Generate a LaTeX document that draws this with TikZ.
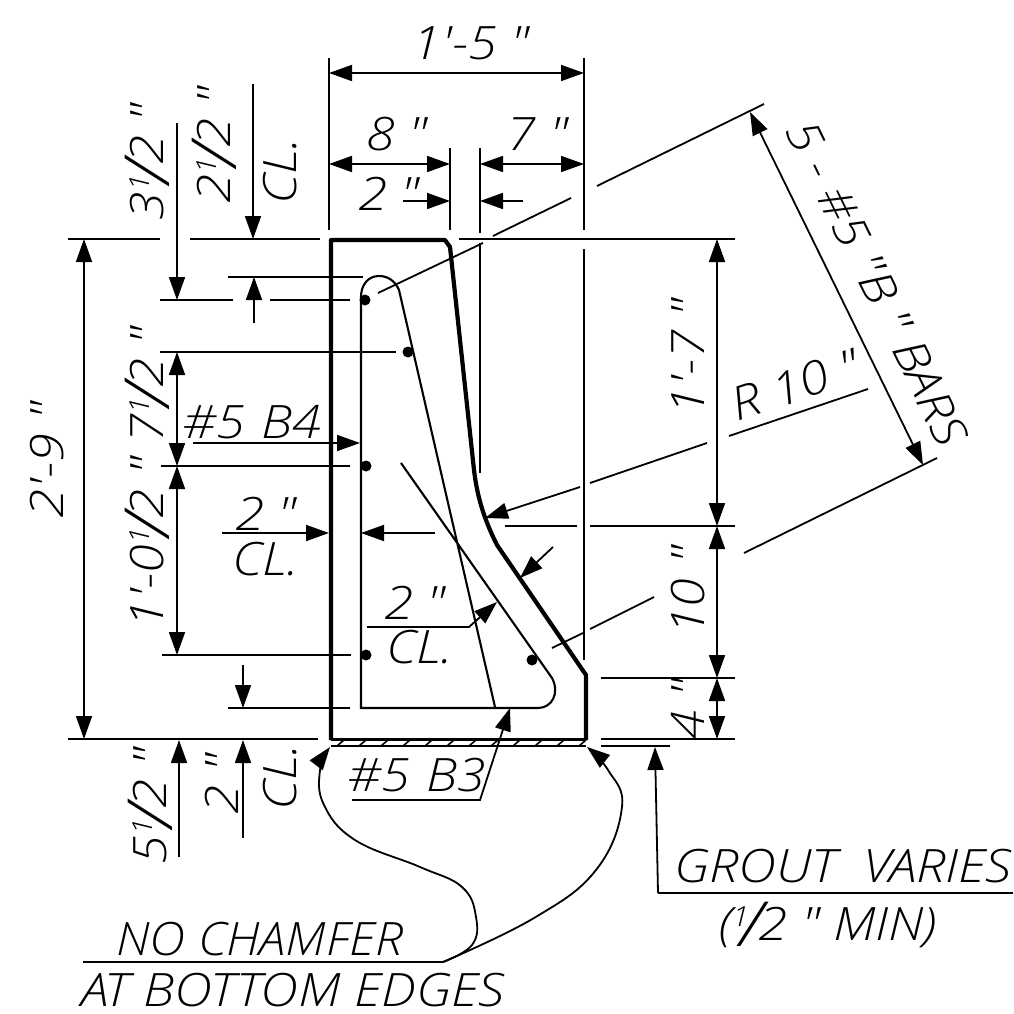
\documentclass[tikz,border=0pt]{standalone}
\usepackage{fontspec}
\usetikzlibrary{arrows.meta}
\newfontfamily\draftfont{Open Sans}[UprightFont=* Light,ItalicFont=* Light Italic,FakeStretch=1.14]
\newcommand{\hlf}{\raisebox{.3em}{\scalebox{.6}{1}}\kern-.2em\raisebox{-.12em}{\scalebox{1.35}{/}}\kern-.08em 2}
\begin{document}
\begin{tikzpicture}
	[x=1pt,y=-1pt,
	>={Triangle[length=23pt,width=16pt]},
	thinline/.style={line width=1.8pt},
	outline/.style={line width=4.2pt,line join=round},
	bar/.style={line width=2.1pt},
	every node/.style={font=\draftfont\itshape\fontsize{46}{46}\selectfont,inner sep=0pt}]
	\useasboundingbox (0,0) rectangle (1013,1014);
	\draw[outline] (331,740) -- (331,240) -- (445,240) -- (450,247) -- (474,470)
		.. controls (477,495) and (483,517) .. (497,545) -- (586,675) -- (586,740);
	\draw[line width=2.6pt] (331,739.5) -- (586,739.5);
	\draw[bar] (495,707) -- (399,290) .. controls (395,281) and (388,276) .. (379,276)
		.. controls (368,276) and (361,285) .. (361,297) -- (361,708) -- (538,708)
		.. controls (552,708) and (560,693) .. (552,678) -- (401,463);
	\foreach \px/\py in {365/300,408/352,366/466,366/655,532/660}
		\fill (\px,\py) circle (5.5pt);
	\draw[thinline] (331,746) -- (586,746);
	\foreach \hx in {344,366,...,586}
		\draw[line width=1.6pt] (\hx-7,746) -- (\hx,740);
	\foreach \ly/\xa/\xb in {239/68/160,239/190/320,239/459/735,277/228/363,300/160/233,300/270/350,
		352/160/396,466/161/350,655/162/351,708/228/350,739/68/318,526/505/577,526/590/735,
		678/601/735,739/601/735,746/601/670}
		\draw[thinline] (\xa,\ly) -- (\xb,\ly);
	\foreach \lx/\ya/\yb in {329/58/230,584/58/230,450/148/230,480/148/233,480/243/473,584/249/660}
		\draw[thinline] (\lx,\ya) -- (\lx,\yb);
	\draw[thinline,<->] (329,73) -- (584,73);
	\draw[thinline,<->] (329,164) -- (450,164);
	\draw[thinline,<->] (480,164) -- (584,164);
	\draw[thinline,->] (403,201) -- (450,201);
	\draw[thinline,->] (523,201) -- (480,201);
	\draw[thinline,->] (177,123) -- (177,300);
	\draw[thinline,->] (253,84) -- (253,239);
	\draw[thinline,->] (254,323) -- (254,277);
	\draw[thinline,<->] (177,352) -- (177,466);
	\draw[thinline,<->] (177,466) -- (177,655);
	\draw[thinline,->] (243,665) -- (243,708);
	\draw[thinline,<->] (84,239) -- (84,739);
	\draw[thinline,->] (193,443) -- (360,443);
	\draw[thinline,->] (222,533) -- (329,533);
	\draw[thinline,->] (435,533) -- (361,533);
	\draw[thinline,->] (367,627) -- (469,627) -- (497,602);
	\draw[thinline,->] (553,547) -- (520,578);
	\draw[thinline,<->] (717,239) -- (717,526);
	\draw[thinline,<->] (717,526) -- (717,678);
	\draw[thinline,<->] (717,678) -- (717,739);
	\draw[thinline,->] (179,857) -- (179,740);
	\draw[thinline,->] (243,838) -- (243,740);
	\draw[thinline] (378,293) -- (483,243);
	\draw[thinline] (493,236) -- (571,198);
	\draw[thinline] (597,186) -- (764,104);
	\draw[thinline] (744,553) -- (937,458);
	\draw[thinline] (552,648) -- (583,633);
	\draw[thinline] (590,629) -- (654,597);
	\draw[thinline,<->] (750,112) -- (923,465);
	\draw[thinline,->] (580,487) -- (485,518);
	\draw[thinline] (590,483) -- (707,443);
	\draw[thinline] (729,436) -- (868,389);
	\draw[thinline,->] (352,800) -- (480,800) -- (510,708);
	\draw[thinline,->] (658,893) -- (655,747);
	\draw[thinline] (658,893) -- (1013,893);
	\draw[thinline] (83,962) -- (443,962);
	\draw[thinline,->] plot[smooth,tension=.7] coordinates {(443,962) (472,945) (476,917) (462,887) (420,867) (355,840) (324,805) (320,770) (330,747)};
	\draw[thinline,->] plot[smooth,tension=.7] coordinates {(443,962) (534,918) (596,870) (622,807) (608,770) (587,747)};
	\node (total) at (471,43) {1'-5 "};
	\node (eight) at (397,134) {8 "};
	\node (seven) at (537,134) {7 "};
	\node (two) at (389,194) {2 "};
	\node[rotate=90] (threehalf) at (147,162) {3\hlf{} "};
	\node[rotate=90] (twohalf) at (214,145) {2\hlf{} "};
	\node[rotate=90] (cltop) at (280,171) {CL.};
	\node[rotate=90] (sevenhalf) at (147,385) {7\hlf{} "};
	\node[rotate=90] (footzero) at (147,543) {1'-0\hlf{} "};
	\node[rotate=90] (height) at (47,460) {2'-9 "};
	\node (barfour) at (252,422) {\#5\kern.35em B4};
	\node (twoleft) at (266,514) {2 "};
	\node (clleft) at (266,559) {CL.};
	\node (twomid) at (415,603) {2 "};
	\node (clmid) at (420,647) {CL.};
	\node[rotate=90] (upper) at (688,357) {1'-7 "};
	\node[rotate=90] (ten) at (688,591) {10 "};
	\node[rotate=90] (four) at (688,709) {4 "};
	\node[rotate=90] (fivehalf) at (150,806) {5\hlf{} "};
	\node[rotate=90] (twolow) at (222,784) {2 "};
	\node[rotate=90] (cllow) at (280,777) {CL.};
	\node (barthree) at (417,775) {\#5\kern.35em B3};
	\node[rotate=-64] (bars) at (877,283) {5 - \#5 "B " BARS};
	\node[rotate=18.7] (radius) at (795,385) {R 10 "};
	\node[xscale=.95] (chamfer) at (260,939) {NO CHAMFER};
	\node (edges) at (293,990) {AT BOTTOM EDGES};
	\node (grout) at (843,866) {GROUT\ \ VARIES};
	\node (groutmin) at (828,925) {(\hlf{} " MIN)};
\end{tikzpicture}
\end{document}
